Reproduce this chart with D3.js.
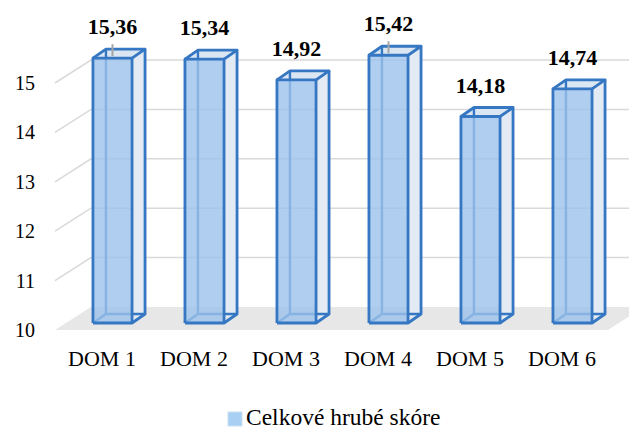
<!DOCTYPE html>
<html>
<head>
<meta charset="utf-8">
<script src="https://cdn.jsdelivr.net/npm/d3@7"></script>
<style>
  html, body { margin: 0; padding: 0; background: #ffffff; }
  svg { display: block; }
</style>
</head>
<body>
<svg id="chart" width="629" height="431"></svg>
<script>
// Data
const categories = ["DOM 1", "DOM 2", "DOM 3", "DOM 4", "DOM 5", "DOM 6"];
const values = [15.36, 15.34, 14.92, 15.42, 14.18, 14.74];
const yTicks = [10, 11, 12, 13, 14, 15];
const seriesName = "Celkové hrubé skóre";
const labelsWithLeader = ["DOM 1", "DOM 4"];

// Czech number format (decimal comma)
const cs = d3.formatLocale({ decimal: ",", thousands: " ", grouping: [3], currency: ["", " Kč"] });
const fmt = cs.format(".2f");

const W = 629, H = 431;
const FONT = '"Liberation Serif"';
const svg = d3.select("#chart");

// Front plane of the floor / side wall
const x = d3.scaleBand().domain(categories).range([56, 608]).padding(0);
const y = d3.scaleLinear().domain([10, 15]).range([330, 83]);

// Oblique depth offsets (dx, dy)
const wall = [36, -23];        // back wall
const barFront = [10.5, -7];   // front face of the columns
const barDepth = [13, -9];     // column depth
const barW = x.step() * 0.425;

const colors = {
  grid: "#d9d9d9",
  floor: "#e7e7e7",
  front: "#9cc2eb",
  side: "#e3eaf3",
  top: "#dbe6f3",
  edge: "#3577c2",
  leader: "#a6a6a6"
};

// Floor
const [x0, x1] = x.range();
svg.append("path")
  .attr("d", d3.line()([
    [x0 - 1, y(10)], [x1, y(10)],
    [x1 + wall[0], y(10) + wall[1]], [x0 - 1 + wall[0], y(10) + wall[1]]
  ]) + "Z")
  .attr("fill", colors.floor);

// Gridlines on side wall and back wall
svg.append("g").selectAll("path")
  .data(yTicks.filter(t => t > 10))
  .join("path")
  .attr("d", t => d3.line()([
    [x0 - 1, y(t)],
    [x0 - 1 + wall[0], y(t) + wall[1]],
    [W + 5, y(t) + wall[1]]
  ]))
  .attr("fill", "none")
  .attr("stroke", colors.grid)
  .attr("stroke-width", 1.5);

// Y tick labels
svg.append("g").selectAll("text")
  .data(yTicks)
  .join("text")
  .attr("x", 35)
  .attr("y", t => y(t))
  .attr("dy", "0.35em")
  .attr("text-anchor", "end")
  .attr("font-size", 20)
  .style("font-family", FONT)
  .text(t => t);

// Columns
const bars = svg.append("g");
categories.forEach((c, i) => {
  const v = values[i];
  const fx = x(c) + (x.step() - barW) / 2 + barFront[0];
  const yb = y(10) + barFront[1];
  const yt = y(v) + barFront[1];
  const [dx, dy] = barDepth;
  const FBL = [fx, yb], FBR = [fx + barW, yb], FTL = [fx, yt], FTR = [fx + barW, yt];
  const BBL = [fx + dx, yb + dy], BBR = [fx + barW + dx, yb + dy];
  const BTL = [fx + dx, yt + dy], BTR = [fx + barW + dx, yt + dy];
  const line = d3.line();
  const g = bars.append("g");

  // right side and top faces
  g.append("path").attr("d", line([FBR, BBR, BTR, FTR]) + "Z").attr("fill", colors.side);
  g.append("path").attr("d", line([FTL, FTR, BTR, BTL]) + "Z").attr("fill", colors.top);

  // edges behind the translucent front face
  const hidden = [[FBL, BBL], [BBL, BBR], [BBL, BTL]];
  hidden.forEach(seg => g.append("path").attr("d", line(seg))
    .attr("stroke", colors.edge).attr("stroke-width", 2.4).attr("fill", "none"));

  // front face
  g.append("path").attr("d", line([FBL, FBR, FTR, FTL]) + "Z")
    .attr("fill", colors.front).attr("fill-opacity", 0.8);

  // visible edges
  const visible = [[FBL, FBR, FTR, FTL, FBL], [FTL, BTL, BTR, FTR], [FBR, BBR, BTR]];
  visible.forEach(seg => g.append("path").attr("d", line(seg))
    .attr("stroke", colors.edge).attr("stroke-width", 2.8)
    .attr("stroke-linejoin", "round").attr("fill", "none"));

  // value label
  const lx = fx + barW / 2;
  const baseline = yt + dy - 15;
  if (labelsWithLeader.includes(c)) {
    g.append("line")
      .attr("x1", lx).attr("x2", lx)
      .attr("y1", baseline + 10).attr("y2", yt - 2)
      .attr("stroke", colors.leader).attr("stroke-width", 2);
  }
  g.append("text")
    .attr("x", lx)
    .attr("y", baseline)
    .attr("text-anchor", "middle")
    .attr("font-size", 22)
    .attr("font-weight", "bold")
    .style("font-family", FONT)
    .text(fmt(v));
});

// Category labels
svg.append("g").selectAll("text")
  .data(categories)
  .join("text")
  .attr("x", c => x(c) + x.step() / 2)
  .attr("y", 366)
  .attr("text-anchor", "middle")
  .attr("font-size", 22)
  .style("font-family", FONT)
  .text(c => c);

// Legend
const legend = svg.append("g");
legend.append("rect")
  .attr("x", 228).attr("y", 412).attr("width", 14).attr("height", 14)
  .attr("fill", "#a9cff2").attr("stroke", "#c9e0f6").attr("stroke-width", 1);
legend.append("text")
  .attr("x", 246).attr("y", 425)
  .attr("font-size", 23.5)
  .style("font-family", FONT)
  .text(seriesName);
</script>
</body>
</html>
